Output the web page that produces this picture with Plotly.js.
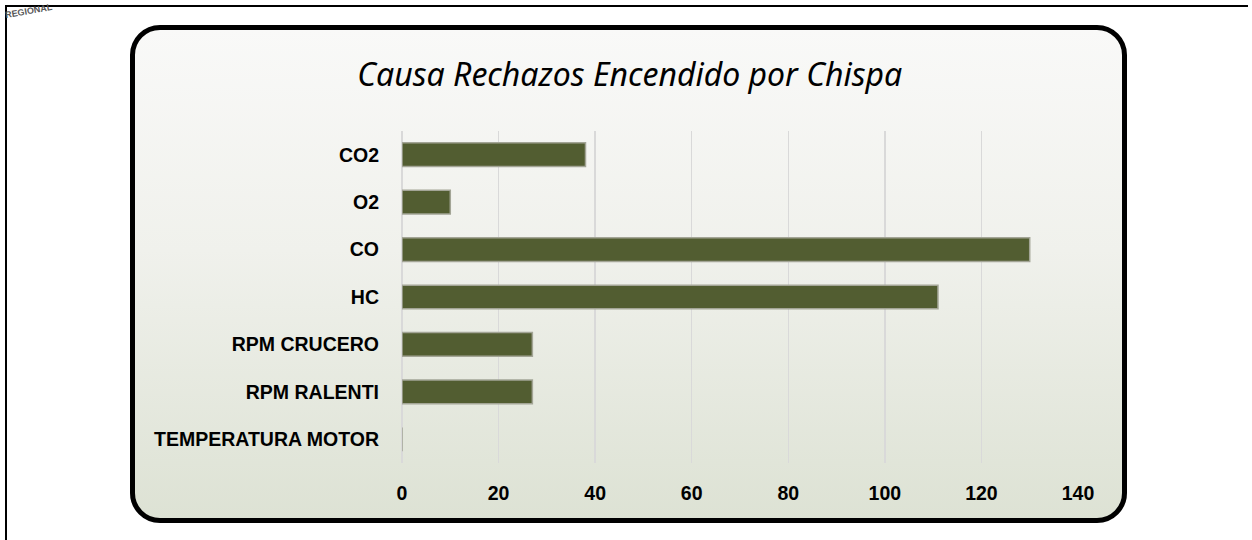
<!DOCTYPE html>
<html>
<head>
<meta charset="utf-8">
<script src="https://cdn.plot.ly/plotly-3.0.1.min.js"></script>
<style>
  html, body { margin: 0; padding: 0; background: #ffffff; }
  #frame { position: absolute; left: 0; top: 0; width: 1252px; height: 540px; overflow: hidden; }
  #outer { position: absolute; left: 5px; top: 5px; width: 1243px; height: 560px; border-left: 2px solid #000; border-top: 2px solid #000; box-sizing: border-box; }
  #box { position: absolute; left: 130px; top: 25px; width: 997px; height: 498px; box-sizing: border-box;
         border: 5px solid #000; border-radius: 30px;
         background: linear-gradient(to bottom, #f9f9f8 0%, #f0f1ec 45%, #dde2d4 100%); }
  #chart { position: absolute; left: 0; top: 0; width: 1252px; height: 540px; }
</style>
</head>
<body>
<div id="frame">
  <div id="outer"></div>
  <div id="box"></div>
  <div id="chart"></div>
</div>
<script>
// Categories listed top to bottom as shown in the chart
const categories = ["CO2", "O2", "CO", "HC", "RPM CRUCERO", "RPM RALENTI", "TEMPERATURA MOTOR"];
const values = [38, 10, 130, 111, 27, 27, 0];
const xTicks = [0, 20, 40, 60, 80, 100, 120, 140];
const titleText = "Causa Rechazos Encendido por Chispa";

const labelFont = { family: "Liberation Sans, Arial, sans-serif", size: 19.5, weight: "bold", color: "#000000" };

const trace = {
  type: "bar",
  orientation: "h",
  y: categories,
  x: values,
  marker: {
    color: "#525d31",
    line: { color: "#a3a596", width: 1.5 }
  },
  hoverinfo: "x+y"
};

const layout = {
  width: 1252,
  height: 540,
  paper_bgcolor: "rgba(0,0,0,0)",
  plot_bgcolor: "rgba(0,0,0,0)",
  margin: { l: 402, r: 174, t: 131, b: 77, pad: 0 },
  showlegend: false,
  bargap: 0.5,
  title: {
    text: titleText,
    font: { family: "Noto Sans", size: 32, style: "italic", color: "#000000" },
    x: 0.503, xanchor: "center", xref: "container",
    y: 0.862, yanchor: "middle", yref: "container"
  },
  xaxis: {
    range: [0, 140],
    tickvals: xTicks,
    ticktext: xTicks.map(String),
    showgrid: true,
    gridcolor: "#d9d9d9",
    gridwidth: 1.5,
    zeroline: true,
    zerolinecolor: "#d9d9d9",
    zerolinewidth: 1.5,
    showline: false,
    ticks: "",
    ticklabelstandoff: 16,
    tickfont: labelFont,
    fixedrange: true
  },
  yaxis: {
    type: "category",
    categoryorder: "array",
    categoryarray: categories,
    autorange: "reversed",
    showgrid: false,
    showline: false,
    ticks: "",
    ticklabelstandoff: 22,
    tickfont: labelFont,
    fixedrange: true
  },
  annotations: [
    {
      text: "REGIONAL",
      xref: "paper", yref: "paper",
      x: -0.592, y: 1.36,
      xanchor: "left", yanchor: "middle",
      showarrow: false,
      textangle: -10,
      font: { family: "Liberation Sans, sans-serif", size: 9, weight: "bold", color: "#555555" }
    }
  ]
};

Plotly.newPlot("chart", [trace], layout, { displayModeBar: false, staticPlot: true });
</script>
</body>
</html>
